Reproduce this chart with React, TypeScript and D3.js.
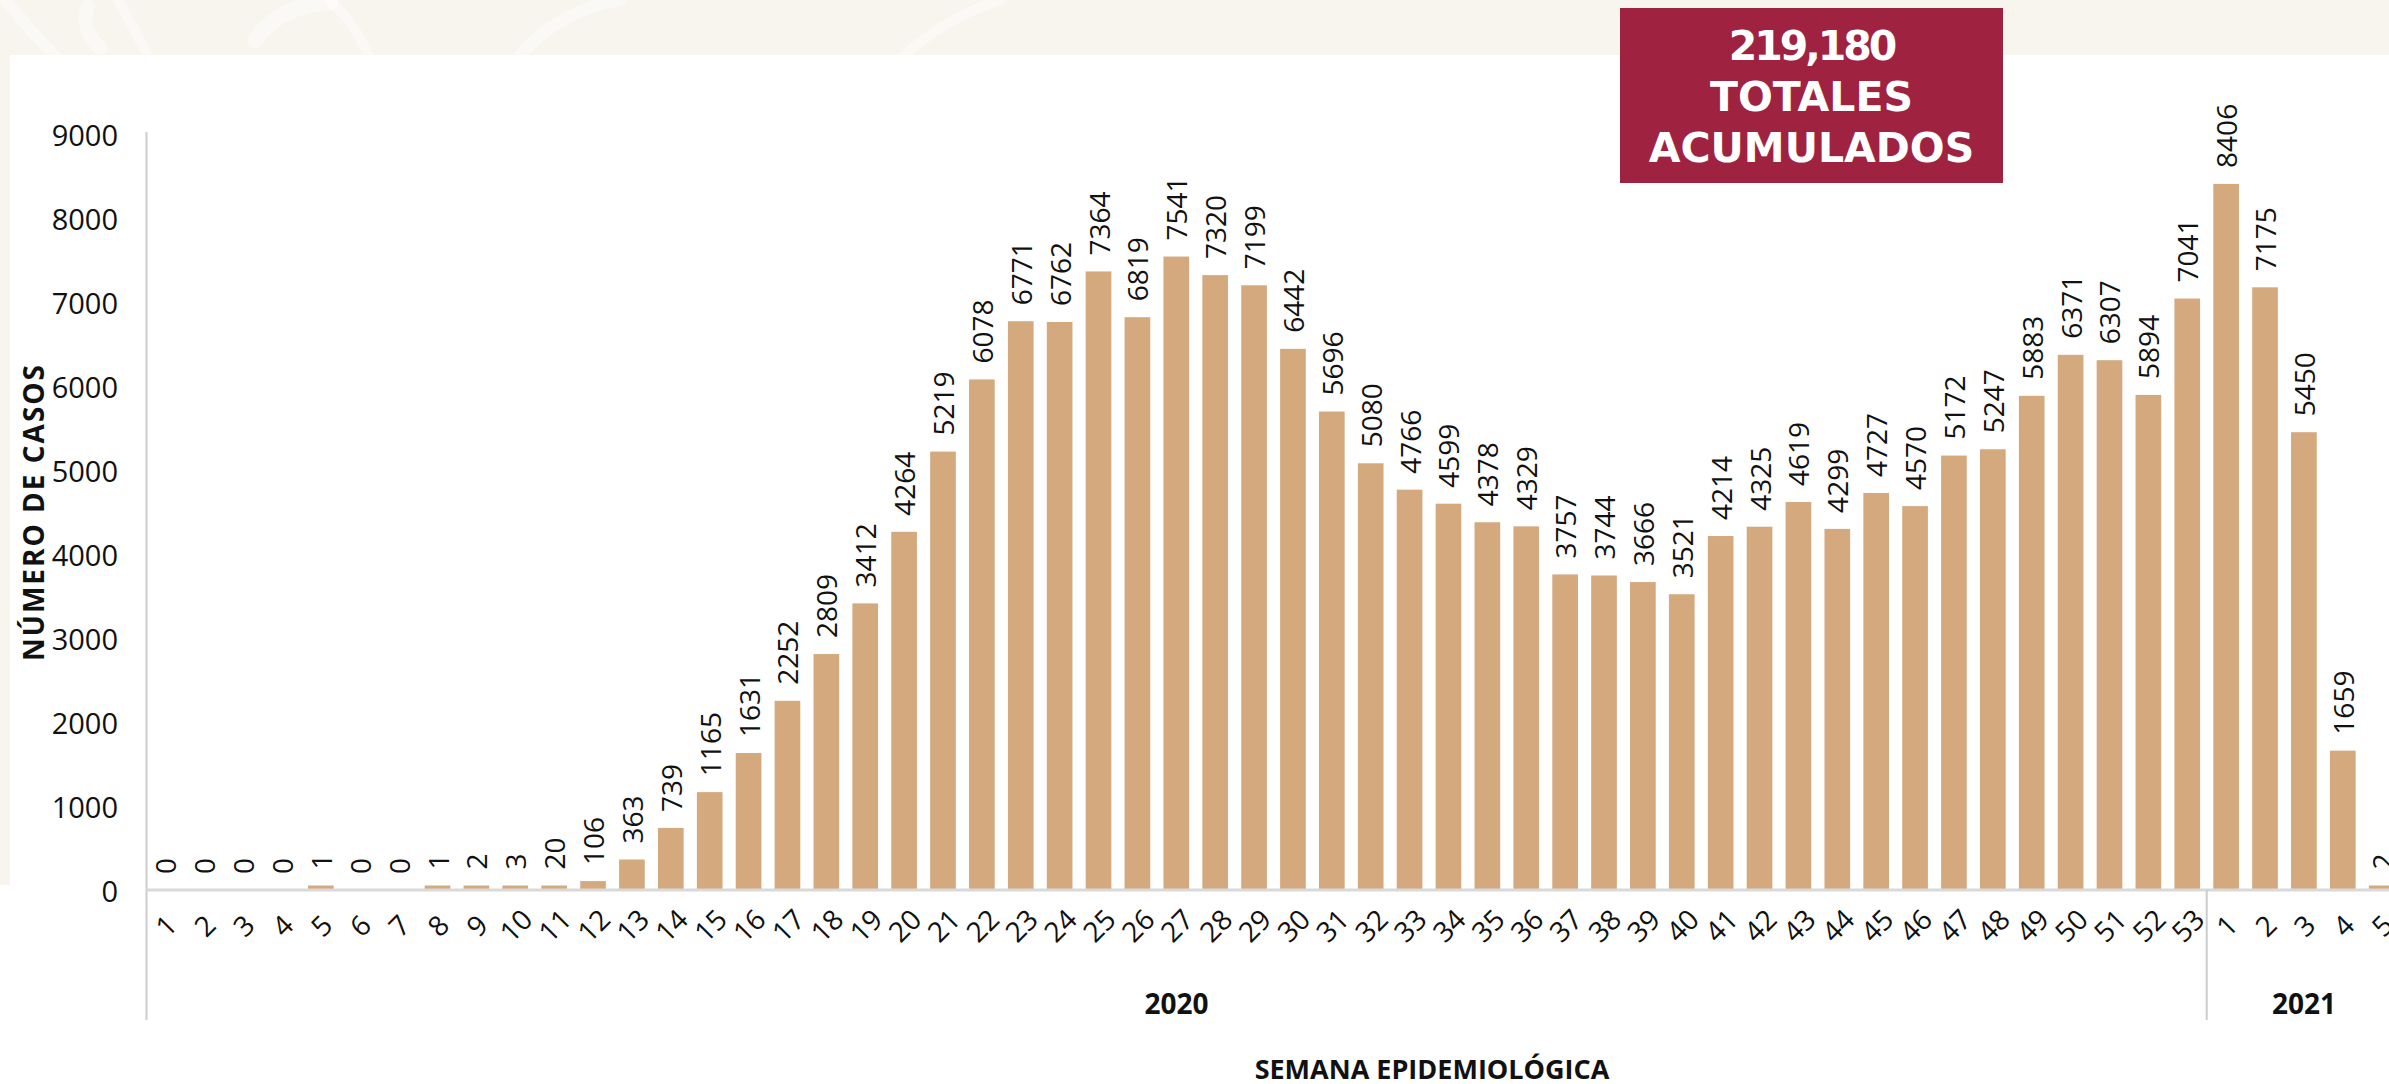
import React from "react";
import * as d3 from "d3";

const weekLabels: string[] = [
  "1","2","3","4","5","6","7","8","9","10","11","12","13","14","15","16","17","18","19","20",
  "21","22","23","24","25","26","27","28","29","30","31","32","33","34","35","36","37","38","39","40",
  "41","42","43","44","45","46","47","48","49","50","51","52","53",
  "1","2","3","4","5",
];
const cases2020: number[] = [
  0, 0, 0, 0, 1, 0, 0, 1, 2, 3, 20, 106, 363, 739, 1165, 1631, 2252, 2809, 3412, 4264,
  5219, 6078, 6771, 6762, 7364, 6819, 7541, 7320, 7199, 6442, 5696, 5080, 4766, 4599, 4378, 4329, 3757, 3744, 3666, 3521,
  4214, 4325, 4619, 4299, 4727, 4570, 5172, 5247, 5883, 6371, 6307, 5894, 7041,
];
const cases2021: number[] = [8406, 7175, 5450, 1659, 2];
const years: string[] = ["2020", "2021"];
const yTicks: number[] = [0, 1000, 2000, 3000, 4000, 5000, 6000, 7000, 8000, 9000];
const boxLines: string[] = ["219,180", "TOTALES", "ACUMULADOS"];
const yTitle = "NÚMERO DE CASOS";
const xTitle = "SEMANA EPIDEMIOLÓGICA";

const W = 2389;
const H = 1084;
const BAR = "#d4a97e";
const AXIS_FONT = "'Open Sans', 'Noto Sans', sans-serif";

export default function App() {
  const values = [...cases2020, ...cases2021];
  const idx = d3.range(values.length);
  const x = d3
    .scaleBand<number>()
    .domain(idx)
    .range([152.5, 2394.5])
    .paddingInner(0.34)
    .paddingOuter(0);
  const y = d3.scaleLinear().domain([0, 9000]).range([890, 134]);
  const bw = x.bandwidth();
  const step = x.step();
  const minH = 4.5;
  const axisX = 146.5;
  const n2020 = cases2020.length;
  const sep = (x(n2020 - 1)! + bw + x(n2020)!) / 2;
  const groupEnd = x(values.length - 1)! + bw + (step - bw) / 2;
  const groups = [
    { label: years[0], cx: (axisX + sep) / 2 },
    { label: years[1], cx: (sep + groupEnd) / 2 },
  ];
  const bottom = 1020;

  const barTop = (v: number) => (v > 0 ? Math.min(y(v), y(0) - minH) : y(0));

  return (
    <svg
      width={W}
      height={H}
      style={{ position: "absolute", left: 0, top: 0, display: "block", background: "#fff" }}
    >
      {/* decorative background band */}
      <rect x={0} y={0} width={W} height={55} fill="#f8f4ee" />
      <rect x={0} y={55} width={10} height={830} fill="#f8f4ee" />
      <g fill="none" stroke="#ffffff" strokeOpacity={0.45} strokeLinecap="round">
        <path d="M5,0 Q30,30 58,60" strokeWidth={12} />
        <path d="M88,6 Q80,30 100,48" strokeWidth={14} />
        <path d="M118,0 Q135,30 150,60" strokeWidth={10} />
        <path d="M255,40 Q280,5 330,2" strokeWidth={16} />
        <path d="M330,0 Q360,30 370,60" strokeWidth={10} />
        <path d="M520,55 Q560,10 620,0" strokeWidth={12} />
        <path d="M900,60 Q940,20 1000,0" strokeWidth={10} />
      </g>

      {/* bars */}
      <g>
        {values.map((v, i) =>
          v > 0 ? (
            <rect
              key={i}
              x={x(i)!}
              y={barTop(v)}
              width={bw}
              height={y(0) - barTop(v)}
              fill={BAR}
            />
          ) : null
        )}
      </g>

      {/* axes */}
      <line x1={axisX} x2={axisX} y1={y(9000) - 2} y2={bottom} stroke="#cccccc" strokeWidth={2} />
      <line x1={axisX} x2={W} y1={y(0)} y2={y(0)} stroke="#d9d9d9" strokeWidth={3} />
      <line x1={sep} x2={sep} y1={y(0)} y2={bottom} stroke="#cccccc" strokeWidth={2} />

      {/* y ticks */}
      <g fontFamily={AXIS_FONT} fontSize={29} fill="#111">
        {yTicks.map((t) => (
          <text key={t} x={118} y={y(t)} textAnchor="end" dominantBaseline="central">
            {t}
          </text>
        ))}
      </g>

      {/* value labels */}
      <g fontFamily={AXIS_FONT} fontSize={28} fill="#111">
        {values.map((v, i) => (
          <text
            key={i}
            transform={`translate(${x(i)! + bw / 2},${barTop(v) - 16}) rotate(-90)`}
            textAnchor="start"
            dominantBaseline="central"
          >
            {v}
          </text>
        ))}
      </g>

      {/* x tick labels */}
      <g fontFamily={AXIS_FONT} fontSize={28} fill="#111">
        {weekLabels.map((l, i) => (
          <text
            key={i}
            transform={`translate(${x(i)! + bw / 2},925) rotate(-45)`}
            textAnchor="middle"
            dominantBaseline="central"
          >
            {l}
          </text>
        ))}
      </g>

      {/* year labels */}
      <g fontFamily={AXIS_FONT} fontSize={28} fontWeight={700} fill="#111">
        {groups.map((g) => (
          <text key={g.label} x={g.cx} y={1003} textAnchor="middle" dominantBaseline="central">
            {g.label}
          </text>
        ))}
      </g>

      {/* axis titles */}
      <text
        transform="translate(33,512) rotate(-90)"
        textAnchor="middle"
        dominantBaseline="central"
        fontFamily={AXIS_FONT}
        fontWeight={700}
        fontSize={28}
        letterSpacing={2}
        fill="#111"
      >
        {yTitle}
      </text>
      <text
        x={1432}
        y={1068}
        textAnchor="middle"
        dominantBaseline="central"
        fontFamily={AXIS_FONT}
        fontWeight={700}
        fontSize={27}
        fill="#111"
      >
        {xTitle}
      </text>

      {/* total box */}
      <rect x={1620} y={8} width={383} height={175} fill="#9f2241" />
      <g fontFamily="'DejaVu Sans', sans-serif" fontWeight={700} fontSize={41} fill="#fff" textAnchor="middle">
        {boxLines.map((l, k) => (
          <text key={k} x={1811.5} y={60 + k * 51} letterSpacing={k === 0 ? -3 : 0}>
            {l}
          </text>
        ))}
      </g>
    </svg>
  );
}
